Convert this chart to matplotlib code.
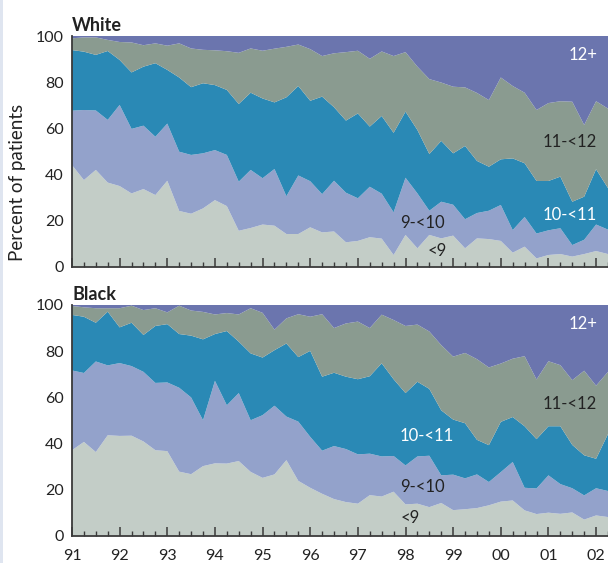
import numpy as np
import matplotlib
matplotlib.use("Agg")
import matplotlib.pyplot as plt
from matplotlib.patches import Rectangle
from matplotlib import font_manager

# Quarterly observations starting with the first quarter of 1991
quarters = 1991 + np.arange(46) / 4.0
year_ticks = list(range(1991, 2003))
year_labels = ["91", "92", "93", "94", "95", "96", "97", "98", "99", "00", "01", "02"]
categories = ["<9", "9-<10", "10-<11", "11-<12", "12+"]
colors = ["#c3cdc7", "#93a2cb", "#2a89b5", "#8a9b90", "#6b75ae"]

# Cumulative percent of patients below each threshold, White patients
white_below9 = [44.0, 37.5, 41.9, 36.4, 34.9, 31.7, 33.6, 31.0, 37.2, 24.1, 22.9, 25.2,
                28.8, 26.2, 15.5, 16.7, 18.2, 17.7, 14.1, 14.1, 17.0, 14.8, 15.2, 10.5,
                11.1, 12.7, 12.1, 5.0, 13.7, 7.9, 13.7, 12.2, 13.4, 7.9, 12.2, 11.9,
                11.1, 6.0, 8.6, 3.5, 5.0, 5.4, 4.3, 5.4, 6.7, 5.4]
white_below10 = [67.6, 67.9, 67.7, 63.6, 70.1, 59.7, 61.1, 56.3, 62.0, 49.8, 48.4, 49.1,
                 50.5, 48.4, 36.8, 41.9, 38.3, 42.3, 30.5, 39.5, 37.0, 31.4, 37.2, 32.0,
                 29.6, 34.6, 31.6, 23.5, 38.5, 31.7, 24.2, 28.1, 26.8, 20.5, 23.2, 24.2,
                 26.7, 15.8, 21.5, 14.3, 15.7, 16.6, 9.3, 11.6, 18.2, 16.0]
white_below11 = [93.9, 93.2, 91.8, 93.5, 89.6, 84.2, 86.7, 88.2, 85.3, 82.0, 77.8, 79.5,
                 78.7, 76.6, 70.5, 75.4, 72.9, 71.2, 73.4, 78.3, 71.9, 73.7, 69.1, 63.3,
                 66.4, 60.7, 65.3, 58.0, 67.2, 59.2, 48.8, 54.5, 49.1, 52.3, 45.8, 43.3,
                 46.5, 46.9, 44.8, 37.1, 37.1, 39.0, 28.1, 30.3, 42.2, 34.0]
white_below12 = [99.0, 99.4, 99.4, 98.3, 97.4, 97.2, 96.0, 96.8, 95.8, 96.8, 94.6, 94.0,
                 93.8, 93.4, 92.7, 94.6, 93.6, 94.5, 95.3, 96.3, 94.3, 91.3, 92.5, 93.0,
                 93.6, 90.1, 93.3, 91.3, 93.0, 86.7, 81.3, 79.8, 78.0, 77.7, 75.3, 72.2,
                 82.0, 78.3, 75.4, 67.9, 70.9, 71.7, 71.5, 61.4, 71.7, 68.5]

# Cumulative percent of patients below each threshold, Black patients
black_below9 = [37.0, 40.6, 36.2, 43.5, 43.2, 43.3, 40.8, 37.0, 36.6, 27.7, 26.6, 30.1,
                31.3, 31.2, 32.3, 27.6, 25.0, 26.5, 32.7, 23.7, 20.7, 18.1, 15.8, 14.5,
                13.8, 17.5, 16.9, 19.0, 13.5, 13.8, 12.3, 14.1, 11.0, 11.4, 11.9, 13.1,
                14.7, 15.2, 10.9, 9.3, 9.9, 9.4, 10.0, 6.9, 8.7, 8.0]
black_below10 = [71.6, 70.5, 75.5, 73.8, 74.8, 73.5, 71.0, 66.2, 66.4, 64.1, 59.9, 50.0,
                 67.1, 56.5, 61.8, 50.0, 52.2, 56.3, 51.6, 49.4, 42.8, 36.8, 38.8, 37.5,
                 35.2, 35.5, 34.3, 34.5, 30.4, 34.3, 34.6, 26.1, 26.4, 24.8, 26.5, 23.2,
                 27.5, 31.9, 20.7, 20.4, 26.1, 22.3, 20.5, 17.4, 20.5, 19.3]
black_below11 = [95.7, 94.9, 92.3, 97.1, 90.3, 92.3, 87.0, 90.9, 91.7, 87.4, 86.7, 85.1,
                 87.4, 88.7, 84.1, 79.0, 77.2, 80.4, 83.3, 77.4, 80.1, 68.9, 70.6, 68.9,
                 67.8, 69.1, 74.7, 67.8, 61.8, 66.7, 63.6, 54.3, 50.3, 48.7, 41.5, 39.2,
                 49.3, 51.4, 47.4, 41.8, 47.4, 47.4, 39.3, 34.8, 33.3, 44.0]
black_below12 = [99.6, 99.0, 98.6, 98.6, 98.6, 99.7, 97.8, 98.6, 96.8, 99.7, 97.6, 97.0,
                 95.9, 96.5, 95.9, 98.6, 96.6, 89.3, 94.2, 96.0, 94.9, 96.0, 90.0, 92.0,
                 92.8, 90.0, 95.8, 93.5, 90.9, 91.5, 88.5, 82.6, 77.6, 79.2, 76.5, 72.9,
                 74.6, 76.7, 77.8, 67.7, 75.6, 73.9, 67.4, 71.5, 65.0, 71.0]

panels = [
    ("White", [white_below9, white_below10, white_below11, white_below12]),
    ("Black", [black_below9, black_below10, black_below11, black_below12]),
]

# In-area category labels: (text, x, y, colour) per panel
label_specs = {
    "White": [("12+", 2001.73, 91.8, "white"), ("11-<12", 2001.44, 54.0, "#222222"),
              ("10-<11", 2001.44, 22.3, "white"), ("9-<10", 1998.35, 18.9, "#222222"),
              ("<9", 1998.67, 6.7, "#222222")],
    "Black": [("12+", 2001.73, 91.8, "white"), ("11-<12", 2001.44, 57.0, "#222222"),
              ("10-<11", 1998.44, 43.2, "white"), ("9-<10", 1998.35, 21.0, "#222222"),
              ("<9", 1998.10, 7.6, "#222222")],
}

installed = {f.name for f in font_manager.fontManager.ttflist}
body_font = "Lato" if "Lato" in installed else "DejaVu Sans"
plt.rcParams["font.family"] = [body_font, "DejaVu Sans"]

W, H = 608, 563
fig = plt.figure(figsize=(W / 100, H / 100), dpi=100)
fig.patch.set_facecolor("white")

# thin pale strip along the left border
fig.patches.append(Rectangle((0, 0), 3 / W, 1, transform=fig.transFigure,
                             facecolor="#dfe5f0", edgecolor="none"))

ax_left = 72 / W
ax_width = 1 - ax_left
ax_height = 230.5 / H
bottoms = [1 - 266.5 / H, 1 - 535.5 / H]
axis_color = "#3a3a3a"
text_color = "#222222"
tick_size = 11.5
inner_size = 12

for i, (name, cums) in enumerate(panels):
    ax = fig.add_axes([ax_left, bottoms[i], ax_width, ax_height])
    levels = [np.zeros(len(quarters))] + [np.asarray(c) for c in cums] + [np.full(len(quarters), 100.0)]
    for j in range(len(categories)):
        ax.fill_between(quarters, levels[j], levels[j + 1], facecolor=colors[j],
                        edgecolor="none", linewidth=0)
    ax.set_xlim(1991, 1991 + (W - 72) / 48)
    ax.set_ylim(0, 100)
    for side in ("top", "right"):
        ax.spines[side].set_visible(False)
    for side in ("left", "bottom"):
        ax.spines[side].set_color(axis_color)
        ax.spines[side].set_linewidth(1.3)

    ax.set_yticks([0, 20, 40, 60, 80, 100])
    ax.tick_params(axis="y", length=0, pad=6.0, labelsize=tick_size, labelcolor=text_color)
    ax.set_xticks(year_ticks)
    ax.set_xticks(quarters[quarters % 1 != 0], minor=True)
    ax.tick_params(axis="x", which="major", direction="in", length=6.5, width=1.1,
                   color=axis_color, pad=10, labelsize=tick_size, labelcolor=text_color)
    ax.tick_params(axis="x", which="minor", direction="in", length=3.8, width=1.0,
                   color=axis_color)
    if i == 0:
        ax.set_xticklabels([])
    else:
        ax.set_xticklabels(year_labels)

    ax.text(0.0, 1.01, name, transform=ax.transAxes, ha="left", va="bottom",
            fontsize=13, fontweight="bold", color=text_color)

    for txt, x, y, col in label_specs[name]:
        ax.text(x, y, txt, ha="center", va="center", fontsize=inner_size, color=col)

fig.text(18 / W, 1 - 182 / H, "Percent of patients", rotation=90, ha="center",
         va="center", fontsize=13.5, color=text_color)

fig.savefig("out.png", dpi=100, facecolor="white")
